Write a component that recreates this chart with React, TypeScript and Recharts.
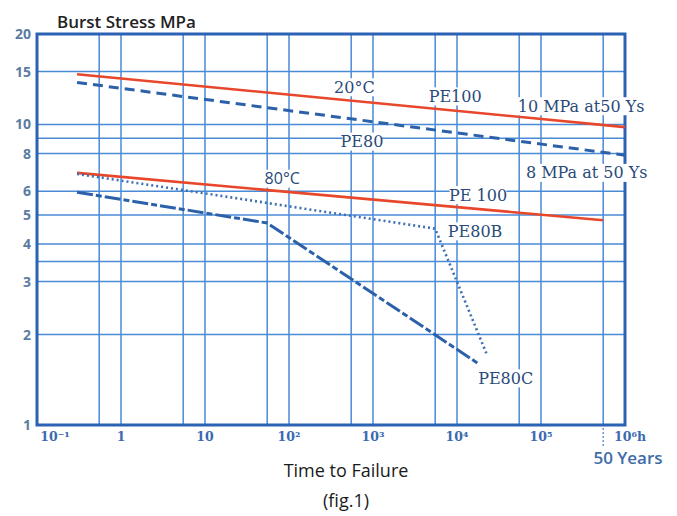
import React from 'react';
import {
  LineChart,
  Line,
  XAxis,
  YAxis,
  CartesianGrid,
  ReferenceArea,
  ReferenceDot,
} from 'recharts';

// time to failure (h), log axis
const xTicks = [0.1, 0.55, 1, 5.5, 10, 55, 100, 550, 1000, 5500, 1e4, 5.5e4, 1e5, 5.5e5, 1e6];
const xDecades = [0.1, 1, 10, 100, 1000, 1e4, 1e5, 1e6];
const xDecadeLabels = ['10⁻¹', '1', '10', '10²', '10³', '10⁴', '10⁵', '10⁶h'];
const fiftyYears = 5.5e5;

// burst stress (MPa), log axis
const yTicks = [1, 2, 3, 3.5, 4, 5, 6, 8, 9, 10, 15, 20];
const yLabelled = [1, 2, 3, 4, 5, 6, 8, 10, 15, 20];

// curves: t = hours, s = MPa
const pe100At20 = [
  { t: 0.3, s: 14.7 },
  { t: 1e6, s: 9.8 },
];
const pe80At20 = [
  { t: 0.3, s: 13.8 },
  { t: 1e6, s: 7.9 },
];
const pe100At80 = [
  { t: 0.3, s: 6.9 },
  { t: 5.5e5, s: 4.8 },
];
const pe80BAt80 = [
  { t: 0.3, s: 6.85 },
  { t: 5500, s: 4.5 },
  { t: 2.3e4, s: 1.7 },
];
const pe80CAt80 = [
  { t: 0.3, s: 5.95 },
  { t: 55, s: 4.7 },
  { t: 1.8e4, s: 1.6 },
];

const notes = [
  { text: '20°C', t: 600, s: 13.3, sans: false },
  { text: 'PE100', t: 9500, s: 12.4, sans: false },
  { text: '10 MPa at50 Ys', t: 3.0e5, s: 11.5, sans: false },
  { text: 'PE80', t: 740, s: 8.77, sans: false },
  { text: '8 MPa at 50 Ys', t: 3.5e5, s: 6.9, sans: false },
  { text: '80°C', t: 83, s: 6.6, sans: true },
  { text: 'PE 100', t: 1.78e4, s: 5.82, sans: false },
  { text: 'PE80B', t: 1.64e4, s: 4.41, sans: false },
  { text: 'PE80C', t: 3.8e4, s: 1.43, sans: false },
];

const RED = '#e8472b';
const BLUE = '#2c61aa';
const GRID = '#4a8ad6';
const BORDER = '#2a63b3';
const LABEL = '#2a4a7a';

function TimeTick({ x, y, payload }: any) {
  const v = payload.value;
  if (Math.abs(v - fiftyYears) < 1) {
    return (
      <line x1={x} x2={x} y1={y + 3} y2={y + 22} stroke="#6a96d4" strokeWidth={1.5} strokeDasharray="2 2" />
    );
  }
  const i = xDecades.findIndex((d) => Math.abs(d - v) / d < 1e-6);
  if (i < 0) return <g />;
  const last = i === xDecades.length - 1;
  const dx = i === 0 ? 18 : last ? 5 : 0;
  return (
    <g>
      <text
        x={x + dx}
        y={y + 16}
        textAnchor="middle"
        fill="#3a6ab0"
        fontSize={12.5}
        fontWeight={600}
        fontFamily="DejaVu Serif"
      >
        {xDecadeLabels[i]}
      </text>
      {last && (
        <text
          x={x + 3}
          y={y + 39}
          textAnchor="middle"
          fill="#3f6ca8"
          fontSize={17}
          fontWeight={600}
          fontFamily="Open Sans"
        >
          50 Years
        </text>
      )}
    </g>
  );
}

function noteShape(note: (typeof notes)[number]) {
  return (p: any) => {
    const size = 16;
    const w = note.text.length * size * 0.55 + 4;
    return (
      <g>
        <rect x={p.cx - w / 2} y={p.cy - 9} width={w} height={18} fill="#ffffff" />
        <text
          x={p.cx}
          y={p.cy}
          dy="0.35em"
          textAnchor="middle"
          fill={LABEL}
          fontSize={size}
          fontFamily={note.sans ? 'Open Sans' : 'DejaVu Serif'}
        >
          {note.text}
        </text>
      </g>
    );
  };
}

export default function App() {
  return (
    <div style={{ position: 'relative', width: 669, height: 508, background: '#fff', fontFamily: 'Open Sans' }}>
      <div
        style={{
          position: 'absolute',
          left: 49,
          top: 5,
          fontSize: 17,
          lineHeight: '17px',
          fontWeight: 600,
          color: '#222',
        }}
      >
        Burst Stress MPa
      </div>
      <LineChart width={669} height={508} margin={{ top: 26, right: 52, left: 0, bottom: 51 }}>
        <CartesianGrid stroke={GRID} strokeWidth={1.5} />
        <XAxis
          dataKey="t"
          type="number"
          scale="log"
          domain={[0.1, 1e6]}
          allowDataOverflow
          ticks={xTicks}
          interval={0}
          height={40}
          tickSize={0}
          tickMargin={0}
          axisLine={false}
          tickLine={false}
          tick={<TimeTick />}
        />
        <YAxis
          type="number"
          scale="log"
          domain={[1, 20]}
          allowDataOverflow
          ticks={yTicks}
          interval={0}
          width={29}
          tickSize={3}
          tickMargin={3}
          axisLine={false}
          tickLine={false}
          tickFormatter={(v: number) => (yLabelled.includes(v) ? String(v) : '')}
          tick={{ fill: '#5b7ca3', fontSize: 14, fontWeight: 700, fontFamily: 'Open Sans' }}
        />
        <ReferenceArea x1={0.1} x2={1e6} y1={1} y2={20} fill="none" stroke={BORDER} strokeWidth={3} />
        {notes.map((n) => (
          <ReferenceDot key={n.text} x={n.t} y={n.s} r={0} ifOverflow="visible" shape={noteShape(n)} />
        ))}
        <Line data={pe100At20} dataKey="s" stroke={RED} strokeWidth={2.6} dot={false} activeDot={false} isAnimationActive={false} />
        <Line data={pe80At20} dataKey="s" stroke={BLUE} strokeWidth={3} strokeDasharray="10 6" dot={false} activeDot={false} isAnimationActive={false} />
        <Line data={pe100At80} dataKey="s" stroke={RED} strokeWidth={2.6} dot={false} activeDot={false} isAnimationActive={false} />
        <Line data={pe80BAt80} dataKey="s" stroke="#3d6fb2" strokeWidth={2.6} strokeDasharray="2 3" dot={false} activeDot={false} isAnimationActive={false} />
        <Line data={pe80CAt80} dataKey="s" stroke={BLUE} strokeWidth={3} strokeDasharray="16 3 6 3" dot={false} activeDot={false} isAnimationActive={false} />
      </LineChart>
      <div
        style={{
          position: 'absolute',
          left: 238,
          width: 200,
          top: 453,
          textAlign: 'center',
          fontSize: 18,
          lineHeight: '18px',
          fontWeight: 500,
          color: '#1a1a1a',
        }}
      >
        Time to Failure
      </div>
      <div
        style={{
          position: 'absolute',
          left: 238,
          width: 200,
          top: 483,
          textAlign: 'center',
          fontSize: 18,
          lineHeight: '18px',
          fontWeight: 500,
          color: '#1a1a1a',
        }}
      >
        (fig.1)
      </div>
    </div>
  );
}
